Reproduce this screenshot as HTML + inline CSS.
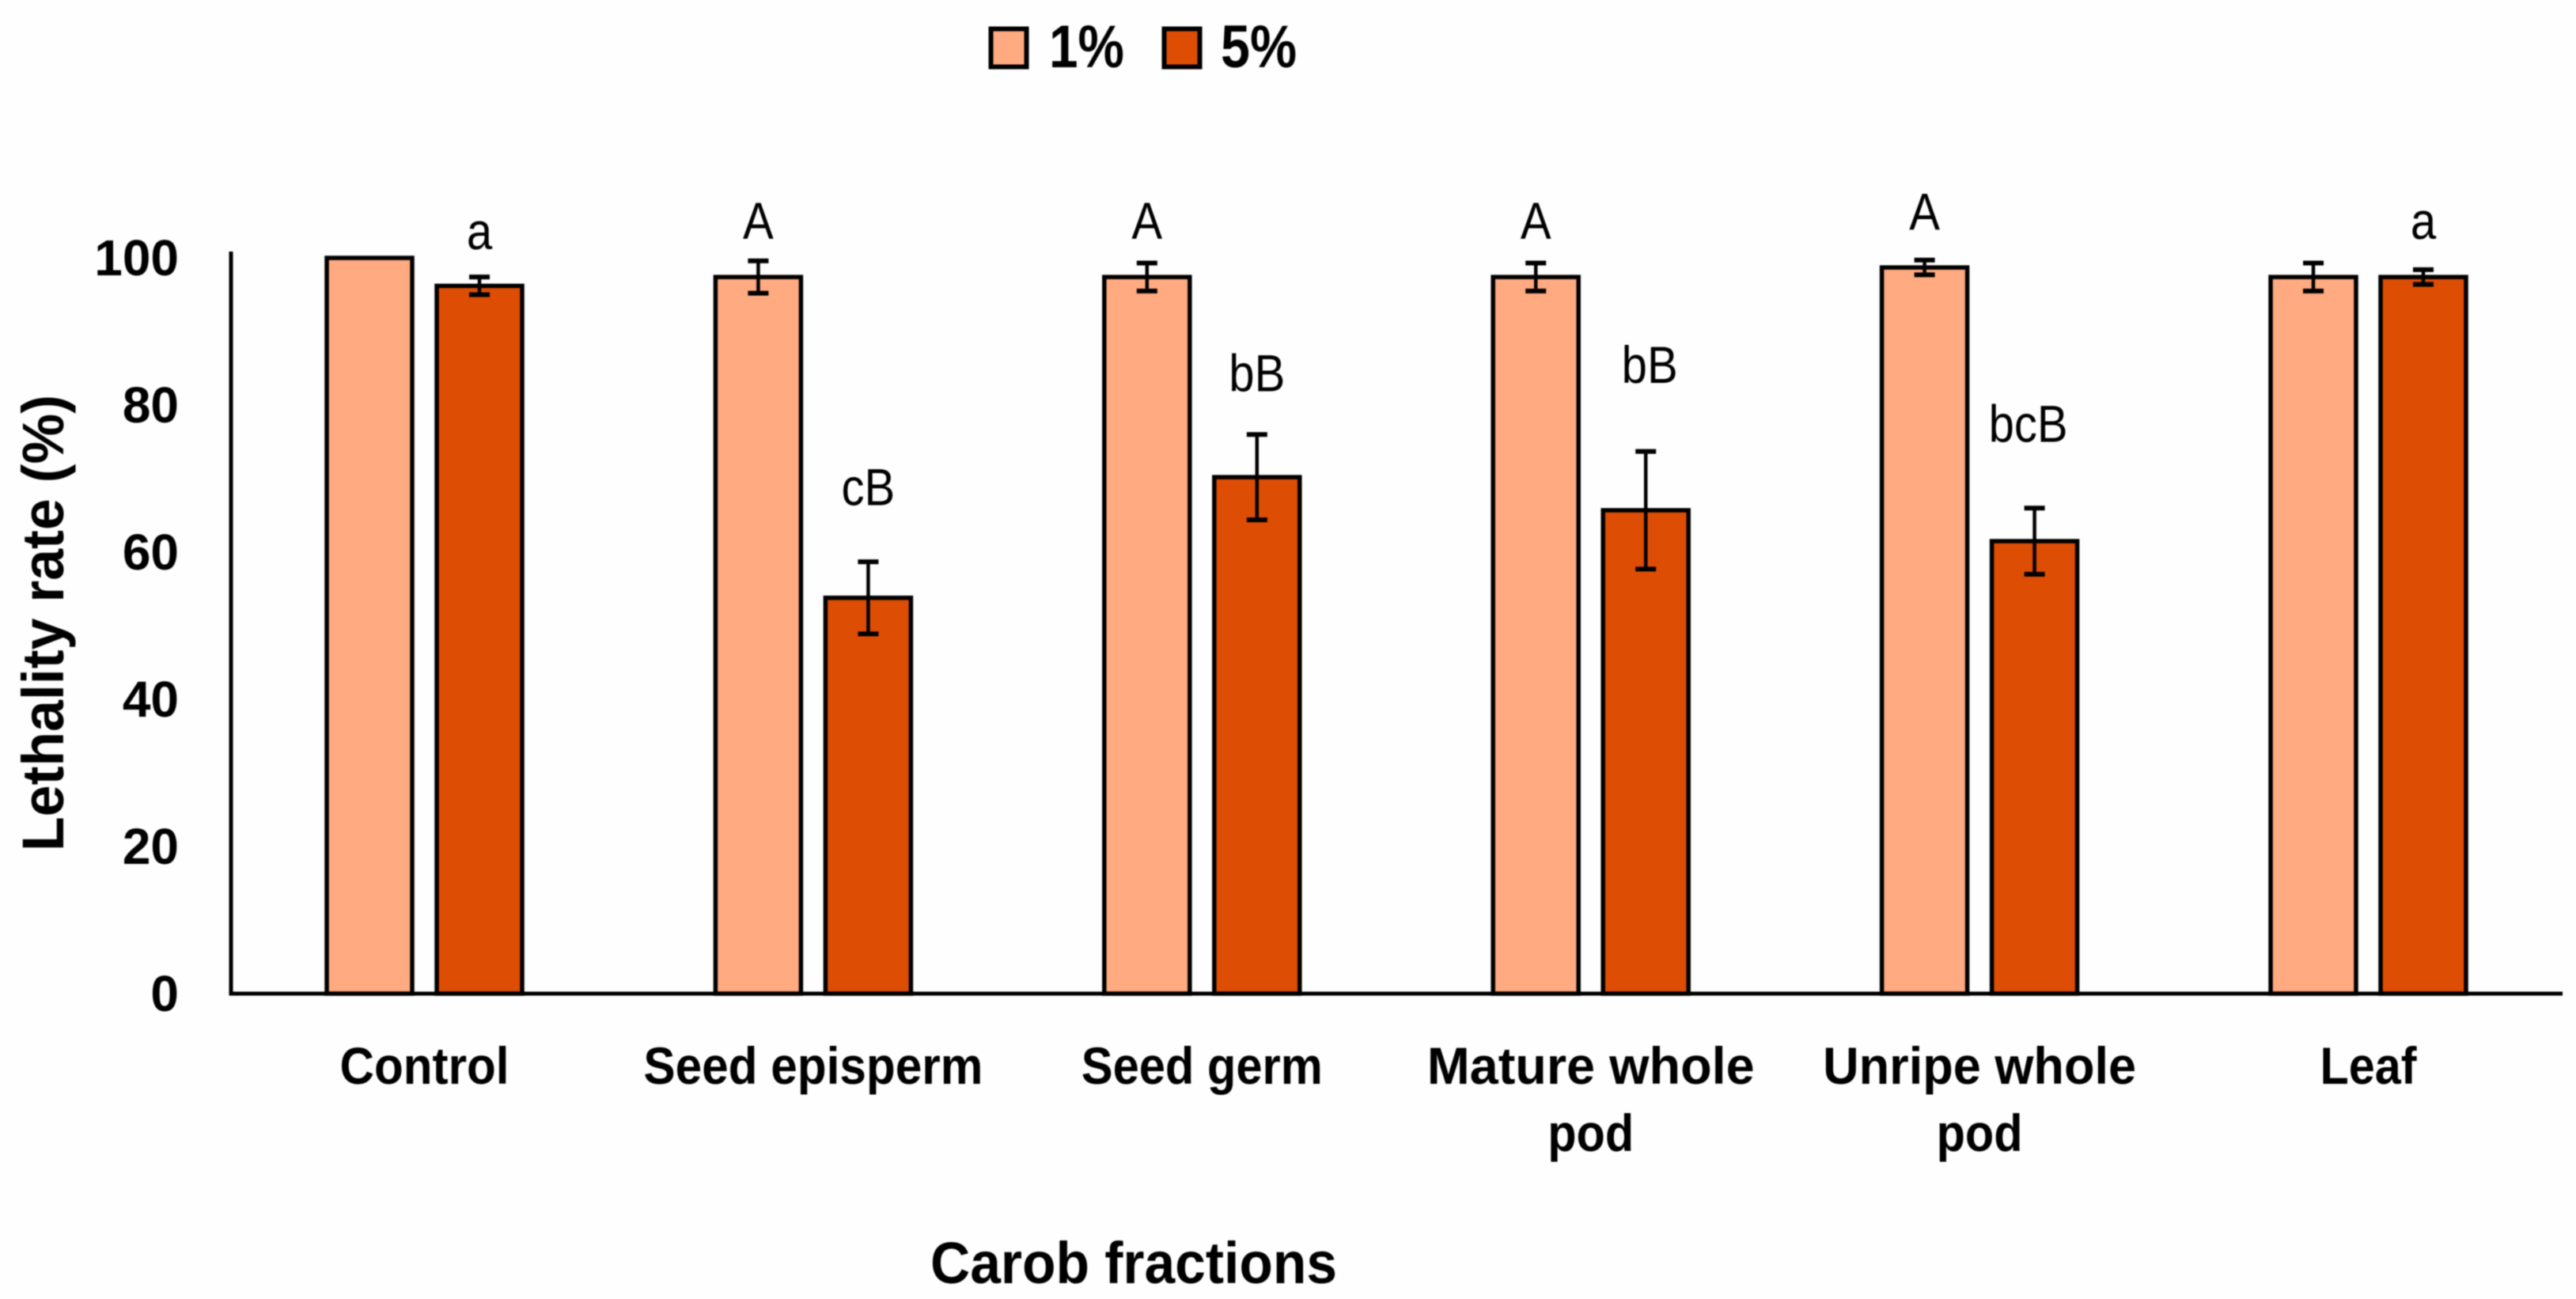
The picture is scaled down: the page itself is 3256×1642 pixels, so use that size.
<!DOCTYPE html>
<html lang="en">
<head>
<meta charset="utf-8">
<title>Lethality rate by carob fraction</title>
<style>
  html, body { margin: 0; padding: 0; background: #fefefe; }
  svg { display: block; filter: blur(0.8px); }
  text { font-family: "Liberation Sans", sans-serif; fill: #000; }
</style>
</head>
<body>
<svg id="chart" xmlns="http://www.w3.org/2000/svg" width="3256" height="1642" viewBox="0 0 3256 1642">
  <g id="legend">
    <rect x="1252.5" y="36.5" width="45" height="48" fill="#FFAA80" stroke="#000" stroke-width="6"/>
    <text x="1326" y="85" font-size="76" font-weight="700" textLength="95" lengthAdjust="spacingAndGlyphs">1%</text>
    <rect x="1471.5" y="36.5" width="45" height="48" fill="#DE4D04" stroke="#000" stroke-width="6"/>
    <text x="1543" y="85" font-size="76" font-weight="700" textLength="96" lengthAdjust="spacingAndGlyphs">5%</text>
  </g>
  <text transform="translate(80 1076) rotate(-90)" font-size="74" font-weight="700" textLength="577" lengthAdjust="spacingAndGlyphs">Lethality rate (%)</text>
  <text x="1176" y="1622" font-size="74" font-weight="700" textLength="514" lengthAdjust="spacingAndGlyphs">Carob fractions</text>
  <g id="plot"></g>
</svg>
<script>
const categories = [["Control"], ["Seed episperm"], ["Seed germ"], ["Mature whole", "pod"], ["Unripe whole", "pod"], ["Leaf"]];
const yTicks = [0, 20, 40, 60, 80, 100];
const values1pct = [100, 97.4, 97.4, 97.4, 98.7, 97.4];
const values5pct = [96.2, 53.8, 70.2, 65.7, 61.5, 97.4];
const errors1pct = [0, 2.2, 1.9, 1.9, 1.0, 1.9];
const errors5pct = [1.2, 4.9, 5.8, 8.0, 4.5, 1.0];
const letters1pct = ["", "A", "A", "A", "A", ""];
const letters5pct = ["a", "cB", "bB", "bB", "bcB", "a"];
const letterLevels1pct = [0, 102.6, 102.6, 102.6, 103.8, 0];
const letterLevels5pct = [101.2, 66.4, 81.9, 83, 75, 102.6];

const svgNS = "http://www.w3.org/2000/svg";
const plot = document.getElementById("plot");
const barWidth = 108;
const strokeW = 5.5;

function xGroup(i) { return 536.5 + 491.4 * i; }
function xBar(i, s) { return xGroup(i) + (s === 0 ? -69.5 : 69.5); }
function yValue(v) { return 1256 - 9.3 * v; }

function mk(tag, attrs, text) {
  const el = document.createElementNS(svgNS, tag);
  for (const k in attrs) el.setAttribute(k, attrs[k]);
  if (text !== undefined) el.textContent = text;
  plot.appendChild(el);
  return el;
}

function drawBar(i, s, value, fill) {
  const top = yValue(value);
  const bar = mk("rect", {
    x: xBar(i, s) - barWidth / 2, y: top, width: barWidth, height: yValue(0) - top,
    fill: fill, stroke: "#000", "stroke-width": strokeW
  });
  
  
}

function drawError(i, s, value, err) {
  if (!err) return;
  const cx = xBar(i, s);
  const y1 = yValue(value + err);
  const y2 = yValue(value - err);
  const stem = mk("path", {
    d: "M" + cx + " " + y1 + "V" + y2, fill: "none", stroke: "#000", "stroke-width": 4.5
  });
  
  
  const caps = mk("path", {
    d: "M" + (cx - 13) + " " + y1 + "H" + (cx + 13) + "M" + (cx - 13) + " " + y2 + "H" + (cx + 13),
    fill: "none", stroke: "#000", "stroke-width": 6
  });
  
  
}

function letterNudge(label, i) {
  if (label === "bB" && i === 3) return 5;
  if (label === "bcB") return -8;
  return 0;
}

function drawLetter(i, s, label, level) {
  if (!label) return;
  const cx = xBar(i, s) + letterNudge(label, i);
  const t = mk("text", {
    transform: "translate(" + cx + " " + yValue(level) + ") scale(0.88 1)",
    "font-size": 66, "text-anchor": "middle"
  }, label);
  
  
}

categories.forEach(function (lines, i) {
  drawBar(i, 0, values1pct[i], "#FFAA80");
  drawBar(i, 1, values5pct[i], "#DE4D04");
});
categories.forEach(function (lines, i) {
  drawError(i, 0, values1pct[i], errors1pct[i]);
  drawError(i, 1, values5pct[i], errors5pct[i]);
  drawLetter(i, 0, letters1pct[i], letterLevels1pct[i]);
  drawLetter(i, 1, letters5pct[i], letterLevels5pct[i]);
});

const yAxis = mk("path", {
  d: "M292 318V1256H3239", fill: "none", stroke: "#000", "stroke-width": 5
});



yTicks.forEach(function (tick) {
  const t = mk("text", {
    x: 226, y: yValue(tick) + 22, "font-size": 64, "font-weight": 700, "text-anchor": "end"
  }, String(tick));
  
  
});

function labelWidth(text) {
  const widths = { "Control": 214, "Seed episperm": 429, "Seed germ": 305, "Mature whole": 414, "Unripe whole": 396, "pod": 109, "Leaf": 122 };
  return widths[text];
}
categories.forEach(function (lines, i) {
  lines.forEach(function (line, j) {
    const t = mk("text", {
      x: xGroup(i) - labelWidth(line) / 2, y: 1370 + 85 * j,
      "font-size": 66, "font-weight": 700,
      textLength: labelWidth(line), lengthAdjust: "spacingAndGlyphs"
    }, line);
    
    
  });
});
</script>
</body>
</html>
